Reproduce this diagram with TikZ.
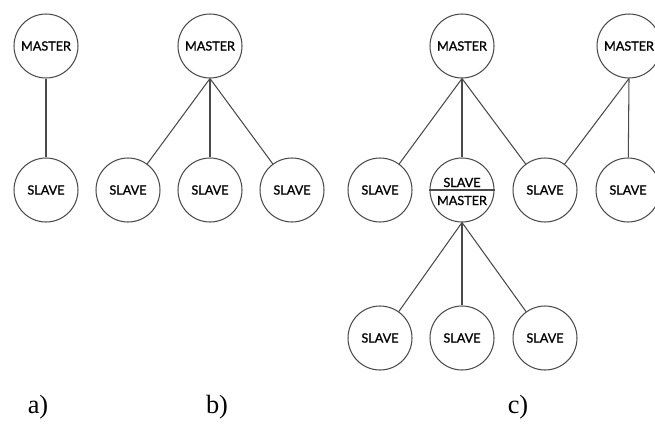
\documentclass[tikz,border=0pt]{standalone}
\usepackage{fontspec}
\setmainfont{Liberation Serif}
\newfontfamily\nodefont[FakeBold=1.2]{Lato}
\usetikzlibrary{positioning}
\definecolor{ink}{HTML}{4A4A4A}

\begin{document}
\begin{tikzpicture}[x=0.02cm,y=-0.02cm,
  unit/.style={draw=ink,circle,minimum size=1.28cm,inner sep=0pt,
    line width=0.6pt,font=\nodefont\fontsize{7.2}{8}\selectfont},
  link/.style={draw=ink,line width=0.6pt},
  caption/.style={font=\fontsize{15}{17}\selectfont}]
\useasboundingbox (0,0) rectangle (655,426);
\clip (0,0) rectangle (655,426);
% a) one master, one slave
\node[unit] (amaster) at (46,46) {MASTER};
\node[unit] (aslave) at (46,190) {SLAVE};
\draw[link] (amaster) -- (aslave);
% b) one master, three slaves
\node[unit] (bmaster) at (210,46) {MASTER};
\node[unit] (bslave1) at (128,190) {SLAVE};
\node[unit] (bslave2) at (210,190) {SLAVE};
\node[unit] (bslave3) at (292,190) {SLAVE};
\foreach \s in {bslave1,bslave2,bslave3}
  \draw[link] (bmaster.south) -- (\s);
% c) two masters, one slave acting as master
\node[unit] (cmaster) at (462,46) {MASTER};
\node[unit] (cmaster2) at (629,46) {MASTER};
\node[unit] (cslave1) at (380,190) {SLAVE};
\node[unit] (csub) at (462,190) {};
\node[unit] (cslave2) at (545,190) {SLAVE};
\node[unit] (cslave3) at (628,190) {SLAVE};
\draw[link] (csub.west) -- (csub.east);
\node[font=\nodefont\fontsize{7.2}{8}\selectfont,inner sep=0pt,anchor=base] at (462,187) {SLAVE};
\node[font=\nodefont\fontsize{7.2}{8}\selectfont,inner sep=0pt,anchor=base] at (462,205) {MASTER};
\node[unit] (cslave4) at (380,338) {SLAVE};
\node[unit] (cslave5) at (462,338) {SLAVE};
\node[unit] (cslave6) at (545,338) {SLAVE};
\foreach \s in {cslave1,csub,cslave2}
  \draw[link] (cmaster.south) -- (\s);
\draw[link] (cmaster2.south) -- (cslave2);
\draw[link] (cmaster2.south) -- (cslave3);
\foreach \s in {cslave4,cslave5,cslave6}
  \draw[link] (csub.south) -- (\s);
% captions
\node[caption] (capa) at (38,407) {a)};
\node[caption] (capb) at (217,407) {b)};
\node[caption] (capc) at (518,407) {c)};
\end{tikzpicture}
\end{document}
